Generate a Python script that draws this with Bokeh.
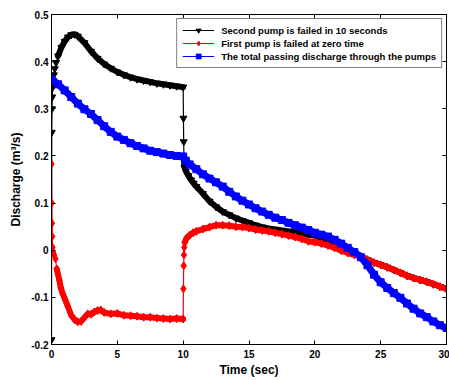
from bokeh.plotting import figure
from bokeh.models import (Legend, LegendItem, LinearAxis, FixedTicker,
                          CustomJSTickFormatter, Range1d)
from bokeh.embed import file_html
from bokeh.resources import INLINE

# ---------------- data ----------------
x_ticks = [0, 5, 10, 15, 20, 25, 30]
x_tick_labels = ["0", "5", "10", "15", "20", "25", "30"]
y_ticks = [-0.2, -0.1, 0, 0.1, 0.2, 0.3, 0.4, 0.5]
y_tick_labels = ["-0.2", "-0.1", "0", "0.1", "0.2", "0.3", "0.4", "0.5"]

series_names = ["Second pump is failed in 10 seconds",
                "First pump is failed at zero time",
                "The total passing discharge through the pumps"]

# Second pump failed at 10 s (black)
black_t = [0, 0.02, 0.04, 0.06, 0.08, 0.12, 0.18, 0.25, 0.35,
           0.5, 0.75, 1.0, 1.25, 1.5, 1.75, 2.0,
           2.5, 3.0, 3.5, 4.0, 4.5, 5.0, 5.5, 6.0, 6.5, 7.0, 7.5, 8.0, 8.5, 9.0, 9.5, 10.0,
           10.02, 10.04, 10.06, 10.1, 10.2, 10.4, 10.6, 10.8,
           11.0, 11.5, 12.0, 12.5, 13.0, 13.5, 14.0, 14.5, 15.0, 15.5,
           16.0, 16.5, 17.0, 17.5, 18.0, 18.5, 19.0, 19.5, 20.0, 20.5,
           21.0, 21.5, 22.0, 22.5, 23.0, 23.5, 24.0, 24.5, 25.0, 25.5,
           26.0, 26.5, 27.0, 27.5, 28.0, 28.5, 29.0, 29.5, 30.0]
black_v = [-0.19, 0.25, 0.30, 0.325, 0.345, 0.36, 0.372, 0.385, 0.398,
           0.412, 0.43, 0.443, 0.452, 0.457, 0.458, 0.454,
           0.44, 0.422, 0.407, 0.395, 0.386, 0.378, 0.372, 0.367, 0.363, 0.36, 0.357, 0.354, 0.352, 0.35, 0.348, 0.346,
           0.28, 0.23, 0.19, 0.176, 0.168, 0.158, 0.149, 0.142,
           0.135, 0.12, 0.104, 0.092, 0.082, 0.075, 0.068, 0.063, 0.058, 0.053,
           0.049, 0.046, 0.044, 0.042, 0.04, 0.038, 0.036, 0.033, 0.031, 0.026,
           0.02, 0.014, 0.007, 0.001, -0.006, -0.013, -0.02, -0.026, -0.031, -0.036,
           -0.042, -0.048, -0.054, -0.059, -0.063, -0.067, -0.072, -0.077, -0.082]

# First pump failed at zero time (red)
red_t = [0, 0.02, 0.04, 0.06, 0.08, 0.12,
         0.2, 0.3, 0.4, 0.5, 0.6, 0.7, 0.85, 1.0,
         1.25, 1.5, 1.75, 2.0, 2.25, 2.5, 2.75, 3.0, 3.25, 3.5, 3.75, 4.0,
         4.5, 5.0, 5.5, 6.0, 6.5, 7.0, 7.5, 8.0, 8.5, 9.0, 9.5, 10.0,
         10.02, 10.04, 10.06, 10.08, 10.12, 10.25, 10.5, 10.75,
         11.0, 11.5, 12.0, 12.5, 13.0, 13.5, 14.0, 14.5, 15.0, 15.5,
         16.0, 16.5, 17.0, 17.5, 18.0, 18.5, 19.0, 19.5, 20.0, 20.5,
         21.0, 21.5, 22.0, 22.5, 23.0, 23.5, 24.0, 24.5, 25.0, 25.5,
         26.0, 26.5, 27.0, 27.5, 28.0, 28.5, 29.0, 29.5, 30.0]
red_v = [0.183, 0.10, 0.057, 0.029, 0.006, -0.004,
         -0.01, -0.018, -0.04, -0.052, -0.064, -0.079, -0.092, -0.102,
         -0.12, -0.138, -0.147, -0.152, -0.151, -0.143, -0.135, -0.136, -0.131, -0.128, -0.127, -0.132,
         -0.135, -0.134, -0.138, -0.139, -0.14, -0.142, -0.142, -0.144, -0.145, -0.146, -0.145, -0.146,
         -0.082, -0.033, -0.01, 0.006, 0.017, 0.025, 0.032, 0.037,
         0.04, 0.045, 0.049, 0.053, 0.053, 0.052, 0.05, 0.049, 0.047, 0.044,
         0.042, 0.04, 0.037, 0.034, 0.031, 0.028, 0.024, 0.019, 0.017, 0.014,
         0.01, 0.005, -0.001, -0.006, -0.01, -0.013, -0.02, -0.026, -0.031, -0.036,
         -0.042, -0.048, -0.054, -0.059, -0.063, -0.067, -0.072, -0.077, -0.082]

# Total passing discharge through the pumps (blue)
blue_t = [0, 0.5, 1.0, 1.5, 2.0, 2.5, 3.0, 3.5, 4.0, 4.5, 5.0, 5.5, 6.0, 6.5, 7.0,
          7.5, 8.0, 8.5, 9.0, 9.5, 10.0, 10.2,
          10.5, 11.0, 11.5, 12.0, 12.5, 13.0, 13.5, 14.0, 14.5, 15.0, 15.5,
          16.0, 16.5, 17.0, 17.5, 18.0, 18.5, 19.0, 19.5,
          20.0, 20.5, 21.0, 21.5, 22.0, 22.5, 23.0, 23.5, 24.0, 24.5, 25.0,
          25.5, 26.0, 26.5, 27.0, 27.5, 28.0, 28.5, 29.0, 29.5, 30.0]
blue_v = [0.363, 0.352, 0.339, 0.325, 0.311, 0.299, 0.289, 0.276, 0.263, 0.251, 0.241, 0.234, 0.227, 0.221, 0.216,
          0.211, 0.208, 0.205, 0.202, 0.2, 0.199, 0.19,
          0.182, 0.172, 0.161, 0.152, 0.144, 0.135, 0.124, 0.114, 0.105, 0.097, 0.089,
          0.082, 0.075, 0.069, 0.064, 0.058, 0.053, 0.048, 0.043,
          0.037, 0.033, 0.029, 0.022, 0.014, 0.005, -0.004, -0.015, -0.032, -0.052, -0.068,
          -0.08, -0.091, -0.101, -0.113, -0.124, -0.134, -0.142, -0.151, -0.159, -0.165]

# ---------------- figure ----------------
FONT = "Liberation Sans"
p = figure(width=449, height=380, output_backend="svg", toolbar_location=None,
           x_range=Range1d(0, 30), y_range=Range1d(-0.2, 0.5),
           min_border_left=51, min_border_right=3, min_border_top=14, min_border_bottom=36,
           background_fill_color="white", border_fill_color="white")
p.xgrid.visible = False
p.ygrid.visible = False
p.outline_line_color = "black"

def style_axis(ax, ticks, labels=None):
    ax.ticker = FixedTicker(ticks=ticks)
    ax.major_tick_in = 4
    ax.major_tick_out = 0
    ax.minor_tick_in = 0
    ax.minor_tick_out = 0
    ax.axis_line_color = "black"
    ax.major_tick_line_color = "black"
    ax.major_label_text_font = FONT
    ax.major_label_text_font_style = "bold"
    ax.major_label_text_font_size = "10px"
    ax.major_label_text_color = "black"
    ax.axis_label_text_font = FONT
    ax.axis_label_text_font_style = "bold"
    ax.axis_label_text_font_size = "12px"
    ax.axis_label_text_color = "black"
    if labels is not None:
        ax.major_label_overrides = {t: l for t, l in zip(ticks, labels)}
    else:
        ax.formatter = CustomJSTickFormatter(code="return ''")
        ax.major_label_standoff = 0

style_axis(p.xaxis[0], x_ticks, x_tick_labels)
style_axis(p.yaxis[0], y_ticks, y_tick_labels)
p.xaxis[0].axis_label = "Time (sec)"
p.yaxis[0].axis_label = "Discharge (m\u00b3/s)"
p.xaxis[0].major_label_standoff = 5
p.xaxis[0].axis_label_standoff = 2
p.yaxis[0].major_label_standoff = 3
p.yaxis[0].axis_label_standoff = 5

top_ax = LinearAxis()
right_ax = LinearAxis()
style_axis(top_ax, x_ticks)
style_axis(right_ax, y_ticks)
p.add_layout(top_ax, "above")
p.add_layout(right_ax, "right")

# ---------------- series ----------------
items = []
specs = [
    (black_t, black_v, "black", "inverted_triangle", 7, [(9, 32), (34, len(black_t))], 6),
    (red_t, red_v, "red", "diamond", 8, [(8, 38), (42, len(red_t))], 6),
    (blue_t, blue_v, "blue", "square", 7, [(0, len(blue_t))], 7),
]
for (tt, vv, col, mk, ms, bands, bw), name in zip(specs, series_names):
    for a, b in bands:
        p.line(tt[a:b], vv[a:b], line_color=col, line_width=bw,
               line_join="round", line_cap="round")
    ln = p.line(tt, vv, line_color=col, line_width=1.2)
    sc = p.scatter(tt, vv, marker=mk, size=ms, fill_color=col, line_color=col)
    items.append(LegendItem(label=name, renderers=[ln, sc]))

legend = Legend(items=items, location="top_right")
legend.label_text_font = FONT
legend.label_text_font_style = "bold"
legend.label_text_font_size = "9.5px"
legend.label_text_color = "black"
legend.border_line_color = "black"
legend.border_line_width = 1
legend.background_fill_color = "white"
legend.background_fill_alpha = 1
legend.padding = 5
legend.spacing = 1
legend.margin = 4
legend.glyph_width = 32
legend.glyph_height = 12
legend.label_height = 12
legend.label_standoff = 7
p.add_layout(legend)

open("out.html", "w").write(file_html(p, INLINE))
